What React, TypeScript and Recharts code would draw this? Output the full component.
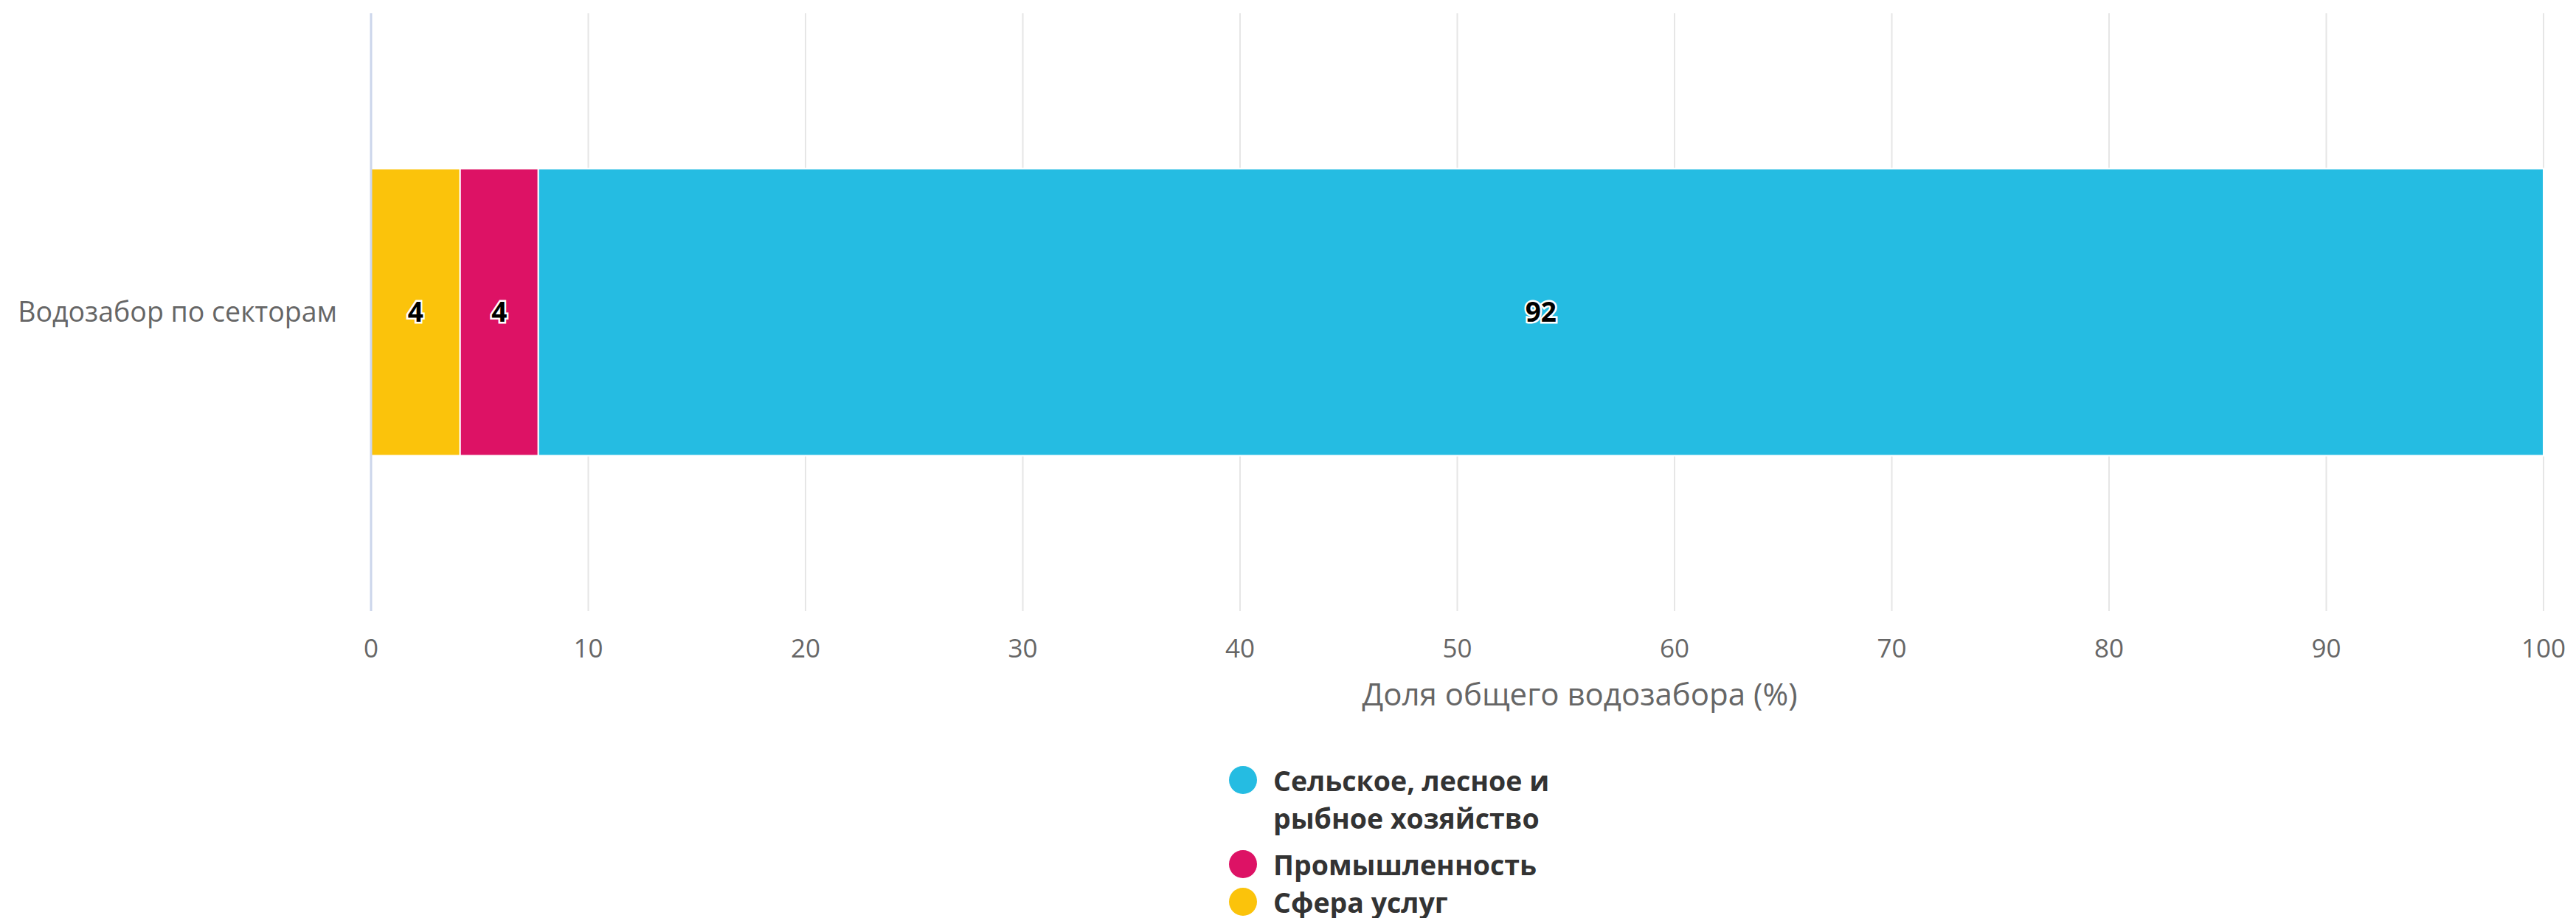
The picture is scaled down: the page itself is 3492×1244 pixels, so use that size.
import React from 'react';
import { BarChart, Bar, XAxis, YAxis, CartesianGrid, Legend, LabelList } from 'recharts';

const categories = ['Водозабор по секторам'];
const seriesNames = ['Сфера услуг', 'Промышленность', 'Сельское, лесное и рыбное хозяйство'];
const seriesColors = ['#fbc30b', '#dd1265', '#25bce2'];
const servicesValues = [4.1];
const industryValues = [3.6];
const agricultureValues = [92.3];
const xTicks = [0, 10, 20, 30, 40, 50, 60, 70, 80, 90, 100];
const xAxisTitle = 'Доля общего водозабора (%)';

const data = categories.map((name, i) => ({
  name,
  s0: servicesValues[i],
  s1: industryValues[i],
  s2: agricultureValues[i],
}));

const FONT = '"Open Sans", "Noto Sans", sans-serif';

const renderLegend = () => {
  const order = [2, 1, 0];
  return (
    <div style={{ fontFamily: FONT, fontWeight: 700, fontSize: 37.5, color: '#333', width: 460, textAlign: 'left' }}>
      {order.map((idx) => (
        <div key={idx} style={{ display: 'flex', alignItems: 'flex-start', lineHeight: '51px', marginBottom: idx === 2 ? 12 : 0 }}>
          <span
            style={{
              display: 'inline-block',
              width: 38,
              height: 38,
              borderRadius: 19,
              background: seriesColors[idx],
              marginTop: 6,
              marginRight: 22,
              flex: '0 0 38px',
            }}
          />
          <span>{seriesNames[idx]}</span>
        </div>
      ))}
    </div>
  );
};

const AxisTitle = (props: any) => {
  const vb = props.viewBox || {};
  return (
    <text
      x={vb.x + vb.width / 2 + 166}
      y={vb.y + 128}
      textAnchor="middle"
      fill="#666"
      fontSize={42}
      fontFamily={FONT}
    >
      {xAxisTitle}
    </text>
  );
};

export default function App() {
  return (
    <div style={{ position: 'absolute', left: 0, top: 0, width: 3492, height: 1244, background: '#fff' }}>
      <BarChart
        width={3492}
        height={1244}
        data={data}
        layout="vertical"
        margin={{ top: 18, right: 44, bottom: 0, left: 0 }}
        barCategoryGap="26%"
      >
        <CartesianGrid horizontal={false} vertical={true} stroke="#e6e6e6" strokeWidth={2} />
        <XAxis
          type="number"
          domain={[0, 100]}
          ticks={xTicks}
          interval={0}
          axisLine={false}
          tickLine={false}
          tickSize={0}
          tickMargin={38}
          height={416}
          tick={{ fill: '#666', fontSize: 35, fontFamily: FONT }}
          label={<AxisTitle />}
        />
        <YAxis
          type="category"
          dataKey="name"
          width={503}
          axisLine={{ stroke: '#ccd6eb', strokeWidth: 3 }}
          tickLine={false}
          tickSize={0}
          tickMargin={46}
          tick={{ fill: '#666', fontSize: 37.5, fontFamily: FONT }}
        />
        <Legend
          content={renderLegend}
          layout="vertical"
          verticalAlign="middle"
          align="center"
          wrapperStyle={{ position: 'absolute', left: 1666, top: 1032, width: 480 }}
        />
        {['s0', 's1', 's2'].map((key, i) => (
          <Bar
            key={key}
            dataKey={key}
            name={seriesNames[i]}
            stackId="a"
            fill={seriesColors[i]}
            stroke="#fff"
            strokeWidth={2}
            isAnimationActive={false}
          >
            <LabelList
              dataKey={key}
              position="center"
              formatter={(v: any) => Math.round(Number(v))}
              fill="#000"
              stroke="#fff"
              strokeWidth={5}
              style={{ paintOrder: 'stroke', fontWeight: 700, fontSize: 37, fontFamily: FONT }}
            />
          </Bar>
        ))}
      </BarChart>
    </div>
  );
}
